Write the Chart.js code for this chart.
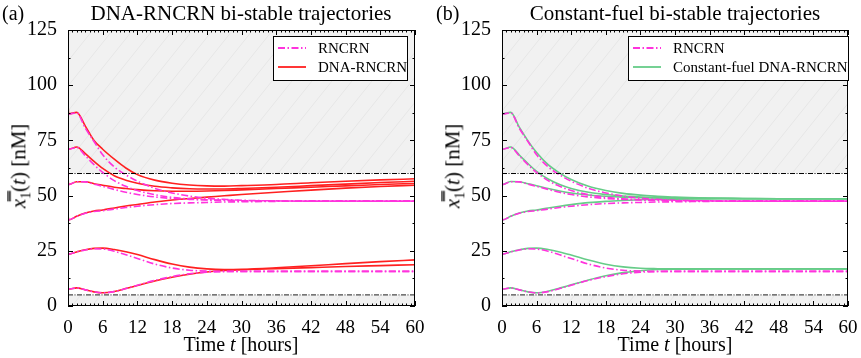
<!DOCTYPE html>
<html>
<head>
<meta charset="utf-8">
<script src="https://cdn.jsdelivr.net/npm/chart.js@4.4.0/dist/chart.umd.min.js"></script>
<style>
  body { margin: 0; background: #fff; width: 861px; height: 358px; overflow: hidden; font-family: "Liberation Serif", "DejaVu Serif", serif; }
  canvas { position: absolute; top: 0; }
  .lbl { position: absolute; white-space: nowrap; color: #000; line-height: 1; }
  .ylab { transform: translate(-50%, -50%) rotate(-90deg); font-size: 21px; }
  .xlab { transform: translate(-50%, -50%); font-size: 20px; }
  .ttl { transform: translate(-50%, -50%); font-size: 21px; }
</style>
</head>
<body>
<canvas id="chartA" width="430" height="358" style="left:0"></canvas>
<canvas id="chartB" width="431" height="358" style="left:430px"></canvas>

<div class="lbl" style="left:2px;top:3px;font-size:20px">(a)</div>
<div class="lbl ttl" style="left:241px;top:13px">DNA-RNCRN bi-stable trajectories</div>
<div class="lbl ylab" style="left:21px;top:166px"><i>x̿</i><sub style="font-size:14px">1</sub>(<i>t</i>) [nM]</div>
<div class="lbl xlab" style="left:241px;top:344px">Time <i>t</i> [hours]</div>

<div class="lbl" style="left:436px;top:3px;font-size:20px">(b)</div>
<div class="lbl ttl" style="left:675px;top:13px">Constant-fuel bi-stable trajectories</div>
<div class="lbl ylab" style="left:455px;top:166px"><i>x̿</i><sub style="font-size:14px">1</sub>(<i>t</i>) [nM]</div>
<div class="lbl xlab" style="left:675px;top:344px">Time <i>t</i> [hours]</div>

<script>
// time points (hours)
const timeHours = [0, 0.1, 1.5, 3, 4.5, 6, 8, 10, 12, 15, 18, 21, 24, 27, 30, 36, 42, 48, 54, 60];

// RNCRN trajectories (same in both panels)
const rncrnTraj = [
  [87, 87, 87.5, 80.5, 74.5, 68.5, 63, 59.4, 56.5, 53.3, 51.2, 49.8, 48.8, 48.3, 47.9, 47.6, 47.5, 47.5, 47.5, 47.5],
  [71, 71, 71.8, 68, 64, 60.5, 56.8, 54.2, 52.3, 50.4, 49.2, 48.5, 48.1, 47.9, 47.7, 47.6, 47.5, 47.5, 47.5, 47.5],
  [55, 55, 56.3, 56.2, 55.2, 54.2, 52.8, 51.5, 50.5, 49.4, 48.7, 48.3, 48, 47.8, 47.7, 47.6, 47.5, 47.5, 47.5, 47.5],
  [39, 39, 40.6, 42, 42.8, 43.2, 43.9, 44.6, 45.2, 45.9, 46.4, 46.7, 46.9, 47.1, 47.2, 47.4, 47.5, 47.5, 47.5, 47.5],
  [23.5, 23.5, 24.5, 25.4, 25.9, 25.8, 24.8, 23.2, 21.5, 19, 17.2, 16.2, 15.8, 15.7, 15.7, 15.7, 15.7, 15.7, 15.7, 15.7],
  [7.7, 7.7, 8.2, 7.3, 6.4, 5.9, 6.5, 7.9, 9.4, 11.6, 13.3, 14.6, 15.3, 15.6, 15.7, 15.7, 15.7, 15.7, 15.7, 15.7]
];

// DNA-RNCRN trajectories (panel a)
const dnaTraj = [
  [92, 87, 87.7, 81.5, 75, 71, 66.5, 62.5, 59.5, 57, 55.6, 54.8, 54.4, 54.3, 54.5, 55, 55.8, 56.5, 57.1, 57.6],
  [71, 71, 72, 69, 65.5, 62.3, 59, 57, 55.6, 54.2, 53.5, 53.1, 53, 53, 53.2, 53.8, 54.5, 55.2, 55.9, 56.5],
  [58, 55, 56.3, 56.3, 55.4, 54.7, 53.8, 53.2, 52.7, 52.2, 52, 52, 52.1, 52.3, 52.6, 53.2, 53.8, 54.4, 55, 55.5],
  [42, 39, 40.6, 42.1, 43, 43.5, 44.4, 45.3, 46, 47.1, 48, 48.7, 49.3, 49.9, 50.5, 51.5, 52.5, 53.4, 54.1, 54.7],
  [23.5, 23.5, 24.5, 25.5, 26.1, 26.2, 25.6, 24.6, 23.3, 21, 19, 17.6, 16.8, 16.5, 16.6, 17.3, 18.2, 19.2, 20.1, 20.9],
  [7.7, 7.7, 8.2, 7.3, 6.4, 6, 6.6, 7.9, 9.3, 11.3, 13, 14.4, 15.4, 16.1, 16.4, 16.9, 17.4, 17.9, 18.3, 18.7]
];

// constant-fuel DNA-RNCRN trajectories (panel b)
const fuelTraj = [
  [87, 87, 87.7, 81, 74.8, 69.5, 64, 60.2, 57.3, 54.2, 52.3, 51, 50.2, 49.7, 49.3, 48.9, 48.7, 48.6, 48.6, 48.6],
  [71, 71, 72, 68.4, 64.5, 61, 57.5, 55, 53.2, 51.5, 50.5, 49.8, 49.4, 49.1, 49, 48.8, 48.7, 48.6, 48.6, 48.6],
  [55, 55, 56.4, 56.3, 55.4, 54.5, 53.2, 52.1, 51.2, 50.3, 49.7, 49.3, 49.1, 48.9, 48.8, 48.7, 48.6, 48.6, 48.6, 48.6],
  [39, 39, 40.6, 42.1, 43, 43.5, 44.4, 45.2, 45.9, 46.8, 47.4, 47.8, 48.1, 48.3, 48.4, 48.5, 48.6, 48.6, 48.6, 48.6],
  [23.5, 23.5, 24.6, 25.5, 26.1, 26.2, 25.6, 24.5, 23.1, 20.8, 18.9, 17.7, 17.1, 16.9, 16.8, 16.8, 16.8, 16.8, 16.8, 16.8],
  [7.7, 7.7, 8.2, 7.3, 6.4, 6, 6.7, 8.1, 9.6, 11.8, 13.7, 15.1, 16, 16.5, 16.7, 16.8, 16.8, 16.8, 16.8, 16.8]
];

// operating bounds (dash-dot lines, shaded outside)
const bounds = [60, 5];
const xTicks = [0, 6, 12, 18, 24, 30, 36, 42, 48, 54, 60];
const yTicks = [0, 25, 50, 75, 100, 125];

const MAGENTA = '#ff33dd';
const RED = '#ff2020';
const GREEN = '#66cc88';
const FONT = '"Liberation Serif", "DejaVu Serif", serif';

const decorPlugin = {
  id: 'decor',
  beforeDatasetsDraw(chart) {
    const { ctx, chartArea: a, scales: { y } } = chart;
    const H = a.bottom - a.top;
    const bands = [[bounds[0], 125], [0, bounds[1]]];
    bands.forEach(([lo, hi]) => {
      const top = y.getPixelForValue(hi), bot = y.getPixelForValue(lo);
      ctx.save();
      ctx.beginPath();
      ctx.rect(a.left, top, a.right - a.left, bot - top);
      ctx.clip();
      ctx.fillStyle = '#f1f1f1';
      ctx.fillRect(a.left, top, a.right - a.left, bot - top);
      ctx.strokeStyle = '#e6e6e6';
      ctx.lineWidth = 1;
      for (let sx = a.left - H; sx < a.right; sx += 20) {
        ctx.beginPath();
        ctx.moveTo(sx, a.bottom);
        ctx.lineTo(sx + H * 0.8, a.top);
        ctx.stroke();
      }
      ctx.restore();
    });
  },
  afterDatasetsDraw(chart, args, opts) {
    const { ctx, chartArea: a, scales: { x, y } } = chart;
    ctx.save();
    ctx.strokeStyle = '#000';
    ctx.lineWidth = 1;
    ctx.strokeRect(a.left + 0.5, a.top + 0.5, a.right - a.left - 1, a.bottom - a.top - 1);
    ctx.beginPath();
    // ticks on all four sides, pointing inwards
    for (let v = 0; v <= 125; v += 12.5) {
      const py = Math.round(y.getPixelForValue(v)) + 0.5;
      const len = v % 25 === 0 ? 5 : 2.5;
      ctx.moveTo(a.left, py); ctx.lineTo(a.left + len, py);
      ctx.moveTo(a.right, py); ctx.lineTo(a.right - len, py);
    }
    for (let v = 0; v <= 60; v += 0.75) {
      const px = Math.round(x.getPixelForValue(v)) + 0.5;
      const len = v % 6 === 0 ? 5 : 2.5;
      ctx.moveTo(px, a.bottom); ctx.lineTo(px, a.bottom - len);
      ctx.moveTo(px, a.top); ctx.lineTo(px, a.top + len);
    }
    ctx.stroke();

    // legend box
    const L = opts.legend;
    ctx.fillStyle = '#fff';
    ctx.fillRect(L.x, L.y, L.w, L.h);
    ctx.strokeRect(L.x + 0.5, L.y + 0.5, L.w, L.h);
    ctx.font = '15px ' + FONT;
    ctx.textBaseline = 'middle';
    L.items.forEach((it, i) => {
      const ly = L.y + 12 + i * 19;
      ctx.beginPath();
      ctx.strokeStyle = it.color;
      ctx.lineWidth = 1.8;
      ctx.setLineDash(it.dash || []);
      ctx.moveTo(L.x + 5, ly); ctx.lineTo(L.x + 33, ly);
      ctx.stroke();
      ctx.setLineDash([]);
      ctx.fillStyle = '#000';
      ctx.fillText(it.label, L.x + 45, ly + 1);
    });
    ctx.restore();
  }
};

function lineData(vals) {
  return timeHours.map((t, i) => ({ x: t, y: vals[i] }));
}

function makePanel(id, modelTraj, modelColor, modelLabel, yWidth, padRight, legendBox) {
  const datasets = [];
  bounds.forEach((b, i) => {
    datasets.push({
      data: [{ x: 0, y: b }, { x: 60, y: b }],
      borderColor: i === 0 ? '#000' : '#4a4a4a',
      borderWidth: i === 0 ? 1 : 1.3,
      borderDash: [5, 1.5, 1, 1.5],
      pointRadius: 0
    });
  });
  rncrnTraj.forEach(tr => datasets.push({
    data: lineData(tr), borderColor: MAGENTA, borderWidth: 1.6,
    borderDash: [7, 2.5, 1.5, 2.5], pointRadius: 0, cubicInterpolationMode: 'monotone'
  }));
  modelTraj.forEach(tr => datasets.push({
    data: lineData(tr), borderColor: modelColor, borderWidth: 1.6,
    pointRadius: 0, cubicInterpolationMode: 'monotone'
  }));

  new Chart(document.getElementById(id), {
    type: 'line',
    data: { datasets },
    options: {
      responsive: false,
      animation: false,
      layout: { padding: { left: 0, right: padRight, top: 30, bottom: 0 } },
      plugins: {
        legend: { display: false },
        tooltip: { enabled: false },
        decor: {
          legend: {
            x: legendBox.x, y: 36, w: legendBox.w, h: 44,
            items: [
              { label: 'RNCRN', color: MAGENTA, dash: [7, 2.5, 1.5, 2.5] },
              { label: modelLabel, color: modelColor }
            ]
          }
        }
      },
      scales: {
        x: {
          type: 'linear', min: 0, max: 60,
          afterFit: s => { s.height = 52; },
          afterBuildTicks: s => { s.ticks = xTicks.map(v => ({ value: v })); },
          grid: { display: false }, border: { display: false },
          ticks: { color: '#000', font: { family: FONT, size: 19 }, padding: 3, maxRotation: 0, autoSkip: false }
        },
        y: {
          min: 0, max: 125,
          afterFit: s => { s.width = yWidth; },
          afterBuildTicks: s => { s.ticks = yTicks.map(v => ({ value: v })); },
          grid: { display: false }, border: { display: false },
          ticks: { color: '#000', font: { family: FONT, size: 20 }, padding: 3 }
        }
      }
    },
    plugins: [decorPlugin]
  });
}

makePanel('chartA', dnaTraj, RED, 'DNA-RNCRN', 68, 15, { x: 273, w: 134 });
makePanel('chartB', fuelTraj, GREEN, 'Constant-fuel DNA-RNCRN', 72, 13, { x: 198, w: 220 });
</script>
</body>
</html>
